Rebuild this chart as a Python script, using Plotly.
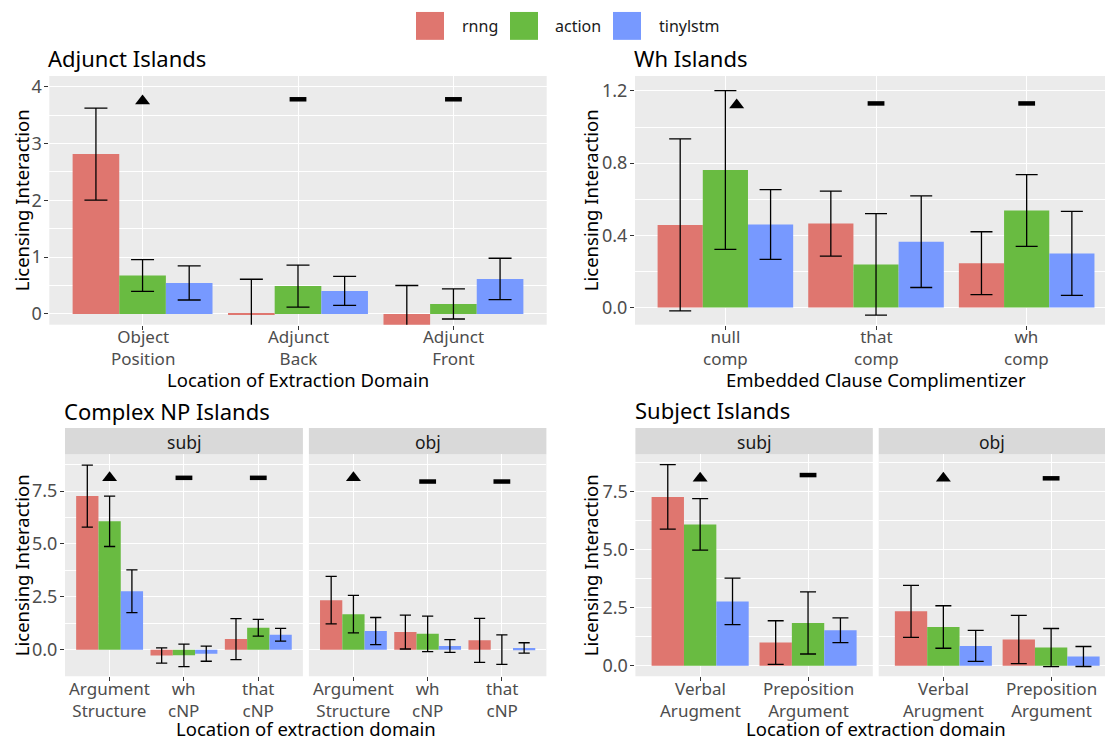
import plotly.graph_objects as go

# ---------------- data ----------------
models = ["rnng", "action", "tinylstm"]

# Adjunct Islands
adj_cats = ["Object<br>Position", "Adjunct<br>Back", "Adjunct<br>Front"]
adj_rnng = [2.815, -0.02, -0.25]
adj_rnng_ci = [0.81, 0.63, 0.75]
adj_action = [0.675, 0.49, 0.175]
adj_action_ci = [0.28, 0.37, 0.265]
adj_tiny = [0.545, 0.405, 0.615]
adj_tiny_ci = [0.30, 0.255, 0.365]
adj_mark = ["tri", "dash", "dash"]
adj_mark_y = [3.75, 3.78, 3.78]

# Wh Islands
wh_cats = ["null<br>comp", "that<br>comp", "wh<br>comp"]
wh_rnng = [0.458, 0.465, 0.246]
wh_rnng_ci = [0.477, 0.18, 0.174]
wh_action = [0.762, 0.239, 0.538]
wh_action_ci = [0.44, 0.281, 0.199]
wh_tiny = [0.46, 0.365, 0.30]
wh_tiny_ci = [0.193, 0.254, 0.233]
wh_mark = ["tri", "dash", "dash"]
wh_mark_y = [1.123, 1.131, 1.131]

# Complex NP Islands
cnp_cats = ["Argument<br>Structure", "wh<br>cNP", "that<br>cNP"]
cnp_subj_rnng = [7.265, -0.28, 0.5]
cnp_subj_rnng_ci = [1.467, 0.36, 0.97]
cnp_subj_action = [6.07, -0.27, 1.035]
cnp_subj_action_ci = [1.19, 0.535, 0.40]
cnp_subj_tiny = [2.76, -0.19, 0.706]
cnp_subj_tiny_ci = [1.01, 0.36, 0.30]
cnp_subj_mark = ["tri", "dash", "dash"]
cnp_subj_mark_y = [8.13, 8.13, 8.13]
cnp_obj_rnng = [2.34, 0.83, 0.44]
cnp_obj_rnng_ci = [1.125, 0.80, 1.04]
cnp_obj_action = [1.68, 0.75, 0.0]
cnp_obj_action_ci = [0.885, 0.84, 0.695]
cnp_obj_tiny = [0.88, 0.17, 0.08]
cnp_obj_tiny_ci = [0.64, 0.30, 0.245]
cnp_obj_mark = ["tri", "dash", "dash"]
cnp_obj_mark_y = [8.13, 7.955, 7.955]

# Subject Islands
sub_cats = ["Verbal<br>Arugment", "Preposition<br>Argument"]
sub_subj_rnng = [7.27, 1.0]
sub_subj_rnng_ci = [1.39, 0.94]
sub_subj_action = [6.086, 1.843]
sub_subj_action_ci = [1.107, 1.336]
sub_subj_tiny = [2.77, 1.529]
sub_subj_tiny_ci = [1.0, 0.53]
sub_subj_mark = ["tri", "dash"]
sub_subj_mark_y = [8.07, 8.21]
sub_obj_rnng = [2.343, 1.13]
sub_obj_rnng_ci = [1.12, 1.04]
sub_obj_action = [1.67, 0.786]
sub_obj_action_ci = [0.915, 0.82]
sub_obj_tiny = [0.857, 0.4]
sub_obj_tiny_ci = [0.67, 0.43]
sub_obj_mark = ["tri", "dash"]
sub_obj_mark_y = [8.07, 8.07]

# ---------------- style ----------------
W, H = 1105, 740
colors = {"rnng": "#DF766F", "action": "#69BB41", "tinylstm": "#7799FF"}
FONT = "Noto Sans"
TICK_COL = "#4D4D4D"
TICK_SIZE = 18
XTICK_SIZE = 17
AXT_SIZE = 18.5


def fx(px):
    return px / W


def fy(py):
    return 1 - py / H


fig = go.Figure()

panels = [
    ("", adj_cats, [adj_rnng, adj_action, adj_tiny], [adj_rnng_ci, adj_action_ci, adj_tiny_ci],
     adj_mark, adj_mark_y, 11.5, 0.0),
    ("2", wh_cats, [wh_rnng, wh_action, wh_tiny], [wh_rnng_ci, wh_action_ci, wh_tiny_ci],
     wh_mark, wh_mark_y, 11, 0.075),
    ("3", cnp_cats, [cnp_subj_rnng, cnp_subj_action, cnp_subj_tiny],
     [cnp_subj_rnng_ci, cnp_subj_action_ci, cnp_subj_tiny_ci], cnp_subj_mark, cnp_subj_mark_y, 5.6, 0.0),
    ("4", cnp_cats, [cnp_obj_rnng, cnp_obj_action, cnp_obj_tiny],
     [cnp_obj_rnng_ci, cnp_obj_action_ci, cnp_obj_tiny_ci], cnp_obj_mark, cnp_obj_mark_y, 5.6, 0.0),
    ("5", sub_cats, [sub_subj_rnng, sub_subj_action, sub_subj_tiny],
     [sub_subj_rnng_ci, sub_subj_action_ci, sub_subj_tiny_ci], sub_subj_mark, sub_subj_mark_y, 8, 0.0),
    ("6", sub_cats, [sub_obj_rnng, sub_obj_action, sub_obj_tiny],
     [sub_obj_rnng_ci, sub_obj_action_ci, sub_obj_tiny_ci], sub_obj_mark, sub_obj_mark_y, 8, 0.0),
]

for suf, cats, series, cis, marks, mark_y, cap, shift in panels:
    xs = list(range(1, len(cats) + 1))
    for m, vals, ci in zip(models, series, cis):
        fig.add_trace(go.Bar(
            x=xs, y=vals, name=m, showlegend=False,
            marker=dict(color=colors[m], line=dict(width=0)),
            error_y=dict(type="data", array=ci, visible=True, color="black",
                         thickness=1.3, width=cap),
            xaxis="x" + suf, yaxis="y" + suf,
        ))
    tri_x = [x + shift for x, k in zip(xs, marks) if k == "tri"]
    tri_y = [y for y, k in zip(mark_y, marks) if k == "tri"]
    dash_x = [x for x, k in zip(xs, marks) if k == "dash"]
    dash_y = [y for y, k in zip(mark_y, marks) if k == "dash"]
    fig.add_trace(go.Scatter(x=tri_x, y=tri_y, mode="markers", showlegend=False,
                             marker=dict(symbol="triangle-up", size=13, color="black"),
                             xaxis="x" + suf, yaxis="y" + suf, cliponaxis=False))
    fig.add_trace(go.Scatter(x=dash_x, y=dash_y, mode="markers", showlegend=False,
                             marker=dict(symbol="line-ew", size=12,
                                         line=dict(width=4.5, color="black")),
                             xaxis="x" + suf, yaxis="y" + suf, cliponaxis=False))


def xaxis(dom, rng, cats, anchor):
    return dict(domain=[fx(dom[0]), fx(dom[1])], range=rng, anchor=anchor,
                tickmode="array", tickvals=list(range(1, len(cats) + 1)),
                showticklabels=False, showgrid=True, gridcolor="white", gridwidth=1.1,
                zeroline=False, ticks="outside", ticklen=4, tickcolor="#333333",
                fixedrange=True)


def yaxis(dom, rng, dtick, fmt, anchor, labels=True):
    return dict(domain=[fy(dom[1]), fy(dom[0])], range=rng, anchor=anchor,
                tick0=0, dtick=dtick, tickformat=fmt, showgrid=True, gridcolor="white",
                gridwidth=1.1, zeroline=False,
                ticks="outside" if labels else "", ticklen=4, tickcolor="#333333",
                showticklabels=labels, ticklabelstandoff=-1,
                tickfont=dict(family=FONT, size=TICK_SIZE, color=TICK_COL),
                minor=dict(tick0=dtick / 2, dtick=dtick, showgrid=True, gridcolor="white",
                           gridwidth=0.5, ticks=""),
                fixedrange=True)


top_y = (74.3, 324)
bot_y = (454, 677)
layout_axes = dict(
    xaxis=xaxis((49.3, 546.7), [0.4, 3.6], adj_cats, "y"),
    yaxis=yaxis(top_y, [-0.19, 4.19], 1, "d", "x"),
    xaxis2=xaxis((635, 1105), [0.4, 3.52], wh_cats, "y2"),
    yaxis2=yaxis(top_y, [-0.095, 1.283], 0.4, ".1f", "x2"),
    xaxis3=xaxis((65, 302.9), [0.4, 3.6], cnp_cats, "y3"),
    yaxis3=yaxis(bot_y, [-1.26, 9.25], 2.5, ".1f", "x3"),
    xaxis4=xaxis((308.9, 546.4), [0.4, 3.6], cnp_cats, "y4"),
    yaxis4=yaxis(bot_y, [-1.26, 9.25], 2.5, ".1f", "x4", labels=False),
    xaxis5=xaxis((635.4, 872.8), [0.4, 2.6], sub_cats, "y5"),
    yaxis5=yaxis(bot_y, [-0.45, 9.11], 2.5, ".1f", "x5"),
    xaxis6=xaxis((878.7, 1105), [0.4, 2.5], sub_cats, "y6"),
    yaxis6=yaxis(bot_y, [-0.45, 9.11], 2.5, ".1f", "x6", labels=False),
)

ann = []
shapes = []


def text(x, y, s, size, color="black", xanchor="center", angle=0, xref="paper"):
    ann.append(dict(x=fx(x) if xref == "paper" else x, y=fy(y), xref=xref, yref="paper",
                    text=s, showarrow=False,
                    xanchor=xanchor, yanchor="middle", textangle=angle, borderpad=0,
                    font=dict(family=FONT, size=size, color=color)))


# category tick labels (placed on each panel's own x axis)
for suf, cats, bottom in [("", adj_cats, 324), ("2", wh_cats, 324), ("3", cnp_cats, 677),
                          ("4", cnp_cats, 677), ("5", sub_cats, 677), ("6", sub_cats, 677)]:
    for i, c in enumerate(cats):
        text(i + 1, bottom + 23, c, XTICK_SIZE, color=TICK_COL, xref="x" + suf)

# titles
text(47, 56.7, "Adjunct Islands", 22, xanchor="left")
text(633, 56.7, "Wh Islands", 22, xanchor="left")
text(63, 410.5, "Complex NP Islands", 22, xanchor="left")
text(633.5, 410, "Subject Islands", 22, xanchor="left")

# axis titles
text(298, 379, "Location of Extraction Domain", AXT_SIZE)
text(876, 379, "Embedded Clause Complimentizer", AXT_SIZE)
text(305.7, 729.5, "Location of extraction domain", AXT_SIZE)
text(876, 729.5, "Location of extraction domain", AXT_SIZE)
for xx, yy in [(21, 199), (590, 199), (21, 565.5), (590, 565.5)]:
    text(xx, yy, "Licensing Interaction", AXT_SIZE, angle=-90)

# facet strips
for (x0, x1), lab in [((65, 302.9), "subj"), ((308.9, 546.4), "obj"),
                      ((635.4, 872.8), "subj"), ((878.7, 1105), "obj")]:
    shapes.append(dict(type="rect", xref="paper", yref="paper", x0=fx(x0), x1=fx(x1),
                       y0=fy(454), y1=fy(427.7), fillcolor="#D9D9D9", line=dict(width=0),
                       layer="below"))
    text((x0 + x1) / 2, 441.5, lab, 17.5, color="#1A1A1A")

# legend
for (kx, tx), m in zip([(416, 461), (510, 554), (613, 658)], models):
    shapes.append(dict(type="rect", xref="paper", yref="paper", x0=fx(kx), x1=fx(kx + 28),
                       y0=fy(38), y1=fy(10), fillcolor=colors[m], line=dict(width=0)))
    text(tx, 24, m, 16, color="#1A1A1A", xanchor="left")

fig.update_layout(
    width=W, height=H, margin=dict(l=0, r=0, t=0, b=0),
    paper_bgcolor="white", plot_bgcolor="#EBEBEB",
    barmode="group", bargap=0.1, bargroupgap=0,
    showlegend=False, annotations=ann, shapes=shapes,
    font=dict(family=FONT),
    **layout_axes,
)

fig.write_html("out.html", config={"displayModeBar": False},
               post_script="document.body.style.margin='0px';document.body.style.overflow='hidden';")
